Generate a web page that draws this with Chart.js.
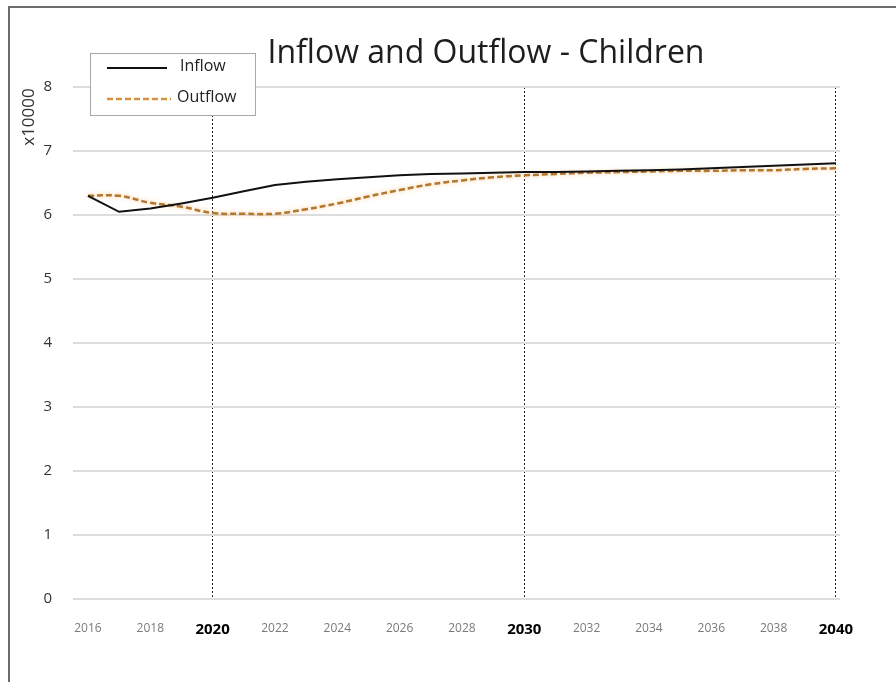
<!DOCTYPE html>
<html>
<head>
<meta charset="utf-8">
<script src="https://cdn.jsdelivr.net/npm/chart.js@4/dist/chart.umd.min.js"></script>
<style>
    html, body { margin: 0; padding: 0; background: #fff; }
    #wrap { position: relative; width: 896px; height: 682px; overflow: hidden; }
    #frame { position: absolute; left: 8px; top: 6px; width: 1000px; height: 1000px;
             border-left: 2px solid #6b6b6b; border-top: 2px solid #6b6b6b; }
    #myChart { position: absolute; left: 0; top: 0; }
</style>
</head>
<body>
<div id="wrap">
    <div id="frame"></div>
    <canvas id="myChart" width="896" height="682"></canvas>
</div>
<script>
// values in units of 10000
var years = [2016, 2017, 2018, 2019, 2020, 2021, 2022, 2023, 2024, 2025, 2026, 2027, 2028,
             2029, 2030, 2031, 2032, 2033, 2034, 2035, 2036, 2037, 2038, 2039, 2040];
var inflow = [6.30, 6.05, 6.10, 6.18, 6.27, 6.37, 6.47, 6.52, 6.56, 6.59, 6.62, 6.64, 6.65,
              6.66, 6.67, 6.67, 6.68, 6.69, 6.70, 6.71, 6.73, 6.75, 6.77, 6.79, 6.81];
var outflow = [6.30, 6.30, 6.19, 6.13, 6.03, 6.02, 6.02, 6.09, 6.18, 6.29, 6.39, 6.48, 6.54,
               6.59, 6.62, 6.64, 6.66, 6.67, 6.68, 6.69, 6.69, 6.70, 6.70, 6.72, 6.73];
var xTicks = [2016, 2018, 2020, 2022, 2024, 2026, 2028, 2030, 2032, 2034, 2036, 2038, 2040];
var yTicks = [0, 1, 2, 3, 4, 5, 6, 7, 8];
var seriesNames = ['Inflow', 'Outflow'];
var titleText = 'Inflow and Outflow - Children';
var unitText = 'x10000';

function pts(vals) {
    var out = [];
    for (var i = 0; i < years.length; i++) {
        out.push({x: years[i], y: vals[i]});
    }
    return out;
}

function isDecade(v) { return v % 10 === 0; }

// title, unit label and the boxed legend
var extras = {
    id: 'extras',
    beforeDatasetDraw: function (chart, args) {
        if (args.index === 1) {
            chart.ctx.save();
            chart.ctx.shadowColor = 'rgba(245,175,90,0.7)';
            chart.ctx.shadowBlur = 4;
        }
    },
    afterDatasetDraw: function (chart, args) {
        if (args.index === 1) chart.ctx.restore();
    },
    afterDraw: function (chart) {
        var ctx = chart.ctx;
        ctx.save();

        ctx.fillStyle = '#1e1e1e';
        ctx.font = '32px "Open Sans"';
        ctx.textAlign = 'center';
        ctx.textBaseline = 'middle';
        ctx.fillText(titleText, 486, 54);

        ctx.save();
        ctx.translate(29, 117);
        ctx.rotate(-Math.PI / 2);
        ctx.font = '17px "Open Sans"';
        ctx.fillStyle = '#333';
        ctx.fillText(unitText, 0, 0);
        ctx.restore();

        // legend box
        ctx.fillStyle = '#fff';
        ctx.fillRect(90, 53, 165, 62);
        ctx.strokeStyle = '#a8a8a8';
        ctx.lineWidth = 1;
        ctx.strokeRect(90.5, 53.5, 165, 62);

        var rows = [68, 99];
        chart.data.datasets.forEach(function (ds, i) {
            ctx.beginPath();
            ctx.strokeStyle = i === 0 ? ds.borderColor : '#d8923f';
            ctx.lineWidth = ds.borderWidth;
            ctx.setLineDash(ds.borderDash || []);
            ctx.moveTo(107, rows[i]);
            ctx.lineTo(i === 0 ? 167 : 171, rows[i]);
            ctx.stroke();
            ctx.setLineDash([]);
            ctx.fillStyle = '#222';
            ctx.font = '16px "Open Sans"';
            ctx.textAlign = 'left';
            ctx.fillText(ds.label, i === 0 ? 180 : 177, rows[i] - 2);
        });
        ctx.restore();
    }
};

var ctx = document.getElementById('myChart').getContext('2d');
var myChart = new Chart(ctx, {
    type: 'line',
    data: {
        datasets: [{
            label: seriesNames[0],
            data: pts(inflow),
            borderColor: '#111111',
            borderWidth: 2,
            pointRadius: 0,
            tension: 0,
            fill: false
        }, {
            label: seriesNames[1],
            data: pts(outflow),
            borderColor: '#b4772f',
            borderWidth: 2.5,
            borderDash: [6, 3],
            pointRadius: 0,
            tension: 0.4,
            fill: false
        }]
    },
    options: {
        responsive: false,
        animation: false,
        layout: { padding: { left: 0, right: 56, top: 87, bottom: 0 } },
        plugins: {
            legend: { display: false },
            title: { display: false },
            tooltip: { enabled: false }
        },
        scales: {
            x: {
                type: 'linear',
                min: 2015.52,
                max: 2040.13,
                afterBuildTicks: function (scale) {
                    scale.ticks = xTicks.map(function (v) { return {value: v}; });
                },
                afterFit: function (scale) { scale.height = 83; },
                border: { display: false, dash: [2, 2] },
                grid: {
                    drawTicks: false,
                    lineWidth: 1,
                    color: function (c) {
                        return c.tick && isDecade(c.tick.value) ? '#222' : 'rgba(0,0,0,0)';
                    }
                },
                ticks: {
                    padding: 22,
                    maxRotation: 0,
                    autoSkip: false,
                    callback: function (v) { return String(v); },
                    color: function (c) {
                        return c.tick && isDecade(c.tick.value) ? '#000' : '#7a7a7a';
                    },
                    font: function (c) {
                        if (c.tick && isDecade(c.tick.value)) {
                            return { family: '"Open Sans"', size: 15, weight: 'bold' };
                        }
                        return { family: '"Open Sans"', size: 12 };
                    }
                }
            },
            y: {
                min: 0,
                max: 8,
                afterBuildTicks: function (scale) {
                    scale.ticks = yTicks.map(function (v) { return {value: v}; });
                },
                afterFit: function (scale) { scale.width = 73; },
                border: { display: false },
                grid: { drawTicks: false, color: '#dddddd', lineWidth: 2 },
                ticks: {
                    padding: 21,
                    color: '#333',
                    font: { family: '"Open Sans"', size: 15 }
                }
            }
        }
    },
    plugins: [extras]
});
</script>
</body>
</html>
